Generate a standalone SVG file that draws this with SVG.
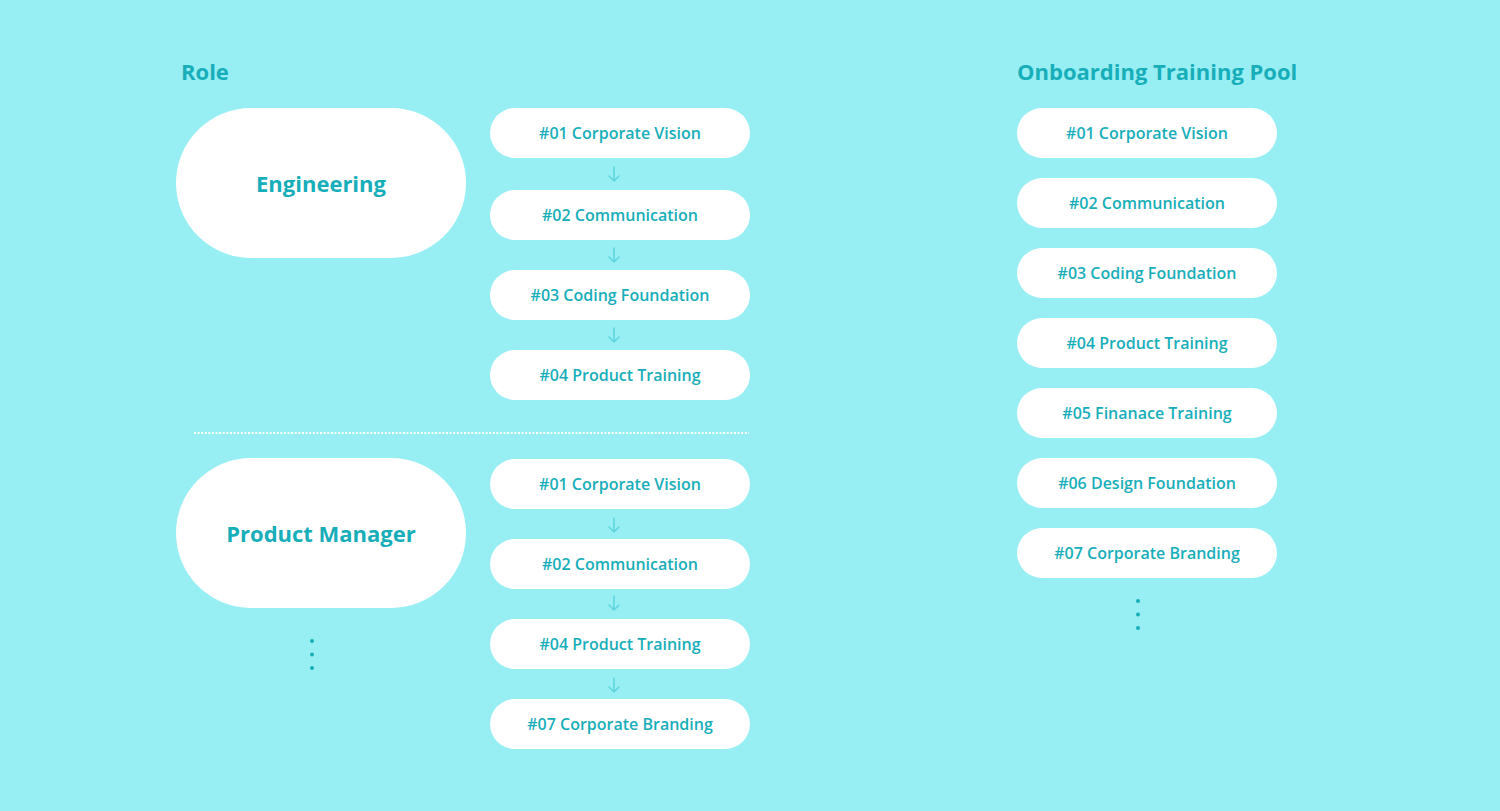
<svg xmlns="http://www.w3.org/2000/svg" width="1500" height="811" viewBox="0 0 1500 811">
<style>
.t{font-family:"Open Sans","Liberation Sans",sans-serif;fill:#17aeba;text-anchor:middle;font-weight:600}
.h{font-family:"Open Sans","Liberation Sans",sans-serif;fill:#17aeba;font-weight:700;font-size:22px}
.big{font-size:22px;font-weight:700}
.sm{font-size:16px}
.pill{fill:#fff}
.arr{stroke:#5fd6de;stroke-width:1.6;fill:none;stroke-linecap:round;stroke-linejoin:round}
.dot{fill:#17aeba}
</style>
<rect width="1500" height="811" fill="#97eff4"/>
<text class="h" x="181" y="80">Role</text>
<text class="h" x="1017" y="80">Onboarding Training Pool</text>

<g id="engineering"><rect class="pill" x="176" y="108" width="290" height="150" rx="75"/><text class="t big" x="321" y="192">Engineering</text></g>
<g id="eng-01"><rect class="pill" x="490" y="108" width="260" height="50" rx="25"/><text class="t sm" x="620" y="139">#01 Corporate Vision</text></g>
<g id="eng-02"><rect class="pill" x="490" y="190" width="260" height="50" rx="25"/><text class="t sm" x="620" y="221">#02 Communication</text></g>
<g id="eng-03"><rect class="pill" x="490" y="270" width="260" height="50" rx="25"/><text class="t sm" x="620" y="301">#03 Coding Foundation</text></g>
<g id="eng-04"><rect class="pill" x="490" y="350" width="260" height="50" rx="25"/><text class="t sm" x="620" y="381">#04 Product Training</text></g>

<line x1="194" y1="433" x2="749" y2="433" stroke="#fff" stroke-width="2" stroke-dasharray="2,1.6"/>

<g id="product-manager"><rect class="pill" x="176" y="458" width="290" height="150" rx="75"/><text class="t big" x="321" y="542">Product Manager</text></g>
<g id="pm-01"><rect class="pill" x="490" y="459" width="260" height="50" rx="25"/><text class="t sm" x="620" y="490">#01 Corporate Vision</text></g>
<g id="pm-02"><rect class="pill" x="490" y="539" width="260" height="50" rx="25"/><text class="t sm" x="620" y="570">#02 Communication</text></g>
<g id="pm-04"><rect class="pill" x="490" y="619" width="260" height="50" rx="25"/><text class="t sm" x="620" y="650">#04 Product Training</text></g>
<g id="pm-07"><rect class="pill" x="490" y="699" width="260" height="50" rx="25"/><text class="t sm" x="620" y="730">#07 Corporate Branding</text></g>

<g id="role-more"><circle class="dot" cx="312" cy="641" r="2"/><circle class="dot" cx="312" cy="654.5" r="2"/><circle class="dot" cx="312" cy="668" r="2"/></g>

<g id="pool-01"><rect class="pill" x="1017" y="108" width="260" height="50" rx="25"/><text class="t sm" x="1147" y="139">#01 Corporate Vision</text></g>
<g id="pool-02"><rect class="pill" x="1017" y="178" width="260" height="50" rx="25"/><text class="t sm" x="1147" y="209">#02 Communication</text></g>
<g id="pool-03"><rect class="pill" x="1017" y="248" width="260" height="50" rx="25"/><text class="t sm" x="1147" y="279">#03 Coding Foundation</text></g>
<g id="pool-04"><rect class="pill" x="1017" y="318" width="260" height="50" rx="25"/><text class="t sm" x="1147" y="349">#04 Product Training</text></g>
<g id="pool-05"><rect class="pill" x="1017" y="388" width="260" height="50" rx="25"/><text class="t sm" x="1147" y="419">#05 Finanace Training</text></g>
<g id="pool-06"><rect class="pill" x="1017" y="458" width="260" height="50" rx="25"/><text class="t sm" x="1147" y="489">#06 Design Foundation</text></g>
<g id="pool-07"><rect class="pill" x="1017" y="528" width="260" height="50" rx="25"/><text class="t sm" x="1147" y="559">#07 Corporate Branding</text></g>
<g id="pool-more"><circle class="dot" cx="1138" cy="601" r="2"/><circle class="dot" cx="1138" cy="614.5" r="2"/><circle class="dot" cx="1138" cy="628" r="2"/></g>

<g id="connectors" class="arr">
<path d="M614 167V181M609 176L614 181L619 176"/>
<path d="M614 248V262M609 257L614 262L619 257"/>
<path d="M614 328V342M609 337L614 342L619 337"/>
<path d="M614 518V532M609 527L614 532L619 527"/>
<path d="M614 596V610M609 605L614 610L619 605"/>
<path d="M614 678V692M609 687L614 692L619 687"/>
</g>
</svg>
